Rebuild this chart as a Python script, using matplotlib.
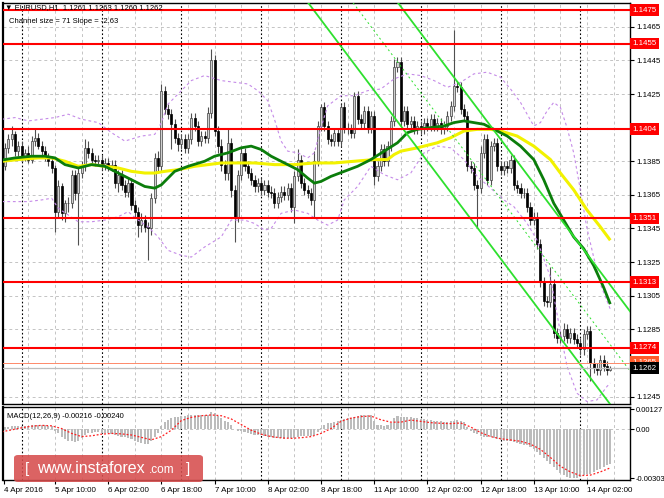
import matplotlib
matplotlib.use("Agg")
import matplotlib.pyplot as plt
import matplotlib.transforms as mtrans
from matplotlib.patches import FancyBboxPatch
import numpy as np

plt.rcParams['font.family'] = ['Liberation Sans', 'DejaVu Sans']

# ---------------- data ----------------
first_bar = 18
first_open = 1.1390
closes = [
    1.1382, 1.1393, 1.1398, 1.1401, 1.1391, 1.1394, 1.1387, 1.1390, 1.1386, 1.1397, 1.1399, 1.1394,
    1.1391, 1.1387, 1.1385, 1.1381, 1.1355, 1.1370, 1.1354, 1.1360, 1.1360, 1.1377, 1.1366, 1.1378,
    1.1382, 1.1393, 1.1390, 1.1386, 1.1385, 1.1386, 1.1383, 1.1384, 1.1382, 1.1383, 1.1372, 1.1377,
    1.1371, 1.1367, 1.1372, 1.1359, 1.1355, 1.1347, 1.1350, 1.1346, 1.1345, 1.1363, 1.1387, 1.1382,
    1.1427, 1.1416, 1.1413, 1.1407, 1.1399, 1.1395, 1.1398, 1.1393, 1.1398, 1.1411, 1.1406, 1.1397,
    1.1400, 1.1399, 1.1414, 1.1445, 1.1403, 1.1394, 1.1383, 1.1378, 1.1396, 1.1368, 1.1352, 1.1377,
    1.1390, 1.1382, 1.1378, 1.1374, 1.1370, 1.1372, 1.1368, 1.1371, 1.1367, 1.1366, 1.1360, 1.1364,
    1.1367, 1.1365, 1.1369, 1.1358, 1.1376, 1.1386, 1.1372, 1.1368, 1.1366, 1.1362, 1.1385, 1.1406,
    1.1417, 1.1406, 1.1398, 1.1397, 1.1402, 1.1397, 1.1417, 1.1405, 1.1404, 1.1402, 1.1424, 1.1410,
    1.1408, 1.1415, 1.1405, 1.1412, 1.1376, 1.1382, 1.1392, 1.1385, 1.1394, 1.1409, 1.1441, 1.1444,
    1.1409, 1.1415, 1.1407, 1.1409, 1.1404, 1.1406, 1.1404, 1.1408, 1.1406, 1.1410, 1.1406, 1.1408,
    1.1404, 1.1406, 1.1412, 1.1418, 1.1430, 1.1429, 1.1416, 1.1412, 1.1382, 1.1381, 1.1371, 1.1369,
    1.1390, 1.1398, 1.1374, 1.1394, 1.1396, 1.1382, 1.1380, 1.1382, 1.1381, 1.1386, 1.1371, 1.1369,
    1.1366, 1.1366, 1.1358, 1.1350, 1.1352, 1.1336, 1.1313, 1.1302, 1.1301, 1.1312, 1.1283, 1.1280,
    1.1281, 1.1285, 1.1280, 1.1283, 1.1279, 1.1277, 1.1273, 1.1282, 1.1284, 1.1265, 1.1262, 1.1261,
    1.1267, 1.1263, 1.1261, 1.1262,
]
wick_up_pips = [
    2, 3, 3, 5, 2, 3, 3, 2, 4, 3, 5, 3,
    3, 3, 3, 3, 2, 4, 2, 2, 4, 3, 3, 4,
    3, 5, 4, 3, 3, 3, 3, 3, 3, 3, 3, 3,
    3, 3, 3, 3, 3, 3, 4, 3, 3, 3, 3, 4,
    4, 3, 3, 3, 3, 3, 3, 3, 3, 3, 3, 3,
    3, 3, 3, 7, 3, 3, 4, 3, 8, 3, 3, 3,
    3, 3, 3, 3, 3, 3, 3, 3, 3, 3, 3, 3,
    3, 3, 3, 3, 3, 6, 3, 3, 3, 3, 6, 3,
    2, 3, 3, 3, 3, 3, 2, 3, 3, 3, 2, 3,
    3, 3, 3, 3, 3, 3, 3, 3, 3, 3, 5, 3,
    3, 3, 3, 3, 3, 3, 3, 3, 3, 3, 3, 3,
    3, 3, 3, 3, 33, 3, 3, 3, 3, 3, 3, 3,
    4, 3, 3, 3, 3, 3, 3, 3, 3, 3, 3, 3,
    3, 3, 3, 3, 3, 3, 3, 3, 3, 10, 3, 3,
    3, 4, 3, 3, 3, 3, 3, 3, 3, 3, 3, 3,
    3, 3, 3, 1,
]
wick_dn_pips = [
    6, 2, 3, 4, 3, 3, 2, 2, 2, 2, 3, 2,
    2, 2, 3, 3, 12, 3, 4, 5, 5, 3, 4, 31,
    3, 3, 3, 3, 3, 3, 3, 3, 3, 3, 3, 5,
    3, 3, 3, 3, 4, 7, 4, 3, 19, 4, 3, 3,
    3, 3, 3, 15, 3, 4, 3, 3, 3, 3, 3, 3,
    3, 3, 3, 3, 3, 4, 4, 4, 4, 4, 15, 3,
    3, 3, 3, 3, 3, 3, 3, 3, 3, 3, 3, 3,
    3, 3, 3, 3, 10, 3, 3, 3, 3, 3, 10, 3,
    3, 3, 3, 3, 3, 3, 3, 3, 3, 3, 3, 3,
    3, 3, 3, 3, 5, 3, 3, 3, 3, 3, 3, 3,
    3, 3, 3, 3, 3, 3, 3, 3, 3, 3, 3, 3,
    3, 3, 3, 3, 3, 3, 3, 3, 3, 3, 3, 23,
    3, 3, 3, 3, 3, 3, 3, 3, 3, 3, 3, 3,
    3, 3, 3, 3, 3, 3, 3, 3, 3, 3, 3, 3,
    3, 3, 3, 3, 3, 3, 3, 3, 3, 11, 3, 3,
    3, 3, 3, 1,
]

# moving averages (bar index, price)
green_ma_bars = [18, 22, 27, 31, 34, 37, 41, 45, 49, 53, 57, 61, 64, 66, 70, 74, 79, 82, 86, 90, 93,
                 96, 99, 103, 107, 110, 112, 114, 117, 121, 125, 129, 133, 137, 140, 143, 147, 151,
                 154, 157, 160, 163, 166, 170, 174, 178, 181, 184, 187, 190, 193, 196, 199, 201]
green_ma_vals = [1.13857, 1.1387, 1.1388, 1.1388, 1.1387, 1.1383, 1.1381, 1.1383, 1.1382, 1.1378,
                 1.1374, 1.1370, 1.1369, 1.1371, 1.1379, 1.1382, 1.1385, 1.1388, 1.1390, 1.1393,
                 1.1394, 1.1392, 1.1388, 1.1384, 1.1380, 1.1375, 1.1372, 1.1373, 1.1376, 1.1379,
                 1.1382, 1.1386, 1.1391, 1.1396, 1.1402, 1.1404, 1.1405, 1.1406, 1.1408, 1.1409,
                 1.1408, 1.1407, 1.1404, 1.1400, 1.1394, 1.1386, 1.1374, 1.1360, 1.1350, 1.1340,
                 1.1333, 1.1323, 1.1310, 1.1300]
yellow_ma_bars = [18, 23, 29, 33, 37, 41, 45, 49, 53, 57, 61, 64, 67, 71, 76, 80, 84, 88, 94, 100,
                  106, 112, 118, 124, 130, 134, 136, 138, 143, 149, 153, 157, 161, 165, 168, 173,
                  178, 183, 186, 190, 194, 198, 201]
yellow_ma_vals = [1.1385, 1.1386, 1.1387, 1.1387, 1.1385, 1.1382, 1.1383, 1.1382, 1.1381, 1.1379,
                  1.1378, 1.1378, 1.1379, 1.1380, 1.1382, 1.1383, 1.1384, 1.1384, 1.1384, 1.1383,
                  1.1383, 1.1384, 1.1384, 1.1385, 1.1386, 1.1386, 1.1389, 1.1391, 1.1393, 1.1396,
                  1.1399, 1.1403, 1.1404, 1.1404, 1.1403, 1.1400, 1.1394, 1.1386, 1.1378, 1.1368,
                  1.1356, 1.1346, 1.1338]

# Bollinger bands (bar index, price)
bb_up_bars = [18, 22, 26, 30, 34, 38, 42, 47, 51, 55, 60, 64, 66, 68, 72, 75, 79, 84, 88, 92, 95,
              98, 100, 102, 104, 107, 110, 112, 114, 116, 120, 124, 128, 132, 136, 140, 144, 148,
              152, 156, 160, 164, 168, 171, 174, 176, 178, 180, 182, 184, 186, 188, 190, 192, 194,
              196, 198, 201]
bb_up_vals = [1.1410, 1.1411, 1.1409, 1.1410, 1.1411, 1.1413, 1.1410, 1.1408, 1.1402, 1.1397,
              1.1400, 1.1401, 1.1408, 1.1419, 1.1427, 1.1433, 1.1436, 1.1433, 1.1432, 1.1431,
              1.1427, 1.1421, 1.1410, 1.1397, 1.1391, 1.1390, 1.1387, 1.1390, 1.1405, 1.1418,
              1.1424, 1.1424, 1.1427, 1.1428, 1.1434, 1.1437, 1.1436, 1.1433, 1.1429, 1.1432,
              1.1437, 1.1438, 1.1435, 1.1428, 1.1420, 1.1413, 1.1406, 1.1408, 1.1415, 1.1420,
              1.1417, 1.1405, 1.1390, 1.1368, 1.1345, 1.1328, 1.1312, 1.1297]
bb_dn_bars = [18, 22, 26, 30, 33, 35, 38, 41, 45, 49, 53, 56, 59, 62, 65, 68, 72, 75, 79, 84, 87,
              91, 94, 97, 99, 102, 106, 110, 113, 116, 119, 121, 125, 129, 133, 137, 141, 145, 149,
              153, 157, 161, 165, 169, 172, 176, 179, 183, 186, 188, 191, 194, 197, 200, 201]
bb_dn_vals = [1.1361, 1.1361, 1.1361, 1.1362, 1.1363, 1.1357, 1.1353, 1.1349, 1.1349, 1.1350,
              1.1352, 1.1355, 1.1350, 1.1346, 1.1340, 1.1332, 1.1329, 1.1328, 1.1334, 1.1340,
              1.1350, 1.1350, 1.1348, 1.1344, 1.1345, 1.1354, 1.1356, 1.1354, 1.1350, 1.1347,
              1.1350, 1.1362, 1.1370, 1.1382, 1.1377, 1.1374, 1.1378, 1.1390, 1.1394, 1.1393,
              1.1386, 1.1376, 1.1369, 1.1362, 1.1358, 1.1348, 1.1338, 1.1316, 1.1283, 1.1263,
              1.1247, 1.1242, 1.1243, 1.1251, 1.1253]

# regression channel
chan_anchor_bar = 149.8
chan_anchor_price = 1.1375
chan_slope = -0.000263
chan_width = 0.0071

# horizontal levels
levels = [1.1475, 1.1455, 1.1404, 1.1351, 1.1313, 1.1274]
ask_level = 1.1265
bid_level = 1.1262
price_ticks = [1.1465, 1.1445, 1.1425, 1.1385, 1.1365, 1.1345, 1.1325, 1.1305, 1.1285, 1.1245]
grid_prices = [1.1245, 1.1265, 1.1285, 1.1305, 1.1325, 1.1345, 1.1365, 1.1385, 1.1405, 1.1425,
               1.1445, 1.1465]

# time axis
time_label_bars = [34, 50, 66, 82, 98, 114, 130, 146, 162, 178, 194]
time_labels = ["5 Apr 10:00", "6 Apr 02:00", "6 Apr 18:00", "7 Apr 10:00", "8 Apr 02:00",
               "8 Apr 18:00", "11 Apr 10:00", "12 Apr 02:00", "12 Apr 18:00", "13 Apr 10:00",
               "14 Apr 02:00"]
first_label = "4 Apr 2016"
day_sep_bars = [24, 48, 72, 96, 120, 144, 168, 192]

# MACD histogram (units of 0.0001) per bar
macd_main = [
    0.8, 1.2, 1.6, 2.0, 2.0, 2.2, 2.0, 2.0, 1.8, 2.6, 3.0, 3.0,
    2.8, 2.6, 2.2, 1.8, -1.0, -2.5, -4.5, -6.0, -7.0, -7.5, -7.8, -7.0,
    -5.5, -3.5, -2.5, -2.0, -1.8, -1.8, -2.0, -2.2, -2.5, -2.8, -3.5, -4.0,
    -4.5, -5.0, -5.5, -6.2, -7.0, -7.8, -8.5, -9.0, -9.0, -7.5, -4.5, -2.5,
    2.0, 4.5, 6.0, 7.0, 7.5, 8.0, 8.5, 8.5, 8.8, 9.0, 9.2, 9.0,
    8.8, 8.8, 9.0, 11.0, 10.0, 8.5, 7.0, 5.5, 4.5, 3.0, 0.5, -1.0,
    -1.2, -1.8, -2.2, -2.8, -3.2, -3.5, -3.8, -4.2, -4.5, -4.8, -5.2, -5.5,
    -5.6, -5.7, -5.6, -5.6, -5.2, -4.5, -4.2, -4.0, -4.0, -4.2, -3.5, -1.5,
    1.0, 3.0, 3.8, 4.0, 4.5, 5.0, 6.0, 6.5, 7.0, 7.2, 8.0, 8.5,
    8.8, 9.0, 9.0, 9.0, 5.0, 3.0, 2.5, 2.0, 2.5, 4.0, 7.0, 8.5,
    8.0, 8.0, 7.8, 7.5, 7.0, 6.8, 6.5, 6.2, 6.0, 5.8, 5.5, 5.3,
    5.0, 4.8, 4.8, 5.0, 5.5, 6.0, 5.5, 4.5, 1.5, -1.0, -2.0, -3.0,
    -4.0, -4.5, -5.0, -5.0, -5.5, -6.0, -6.5, -7.0, -7.0, -7.5, -8.0, -8.5,
    -9.0, -9.5, -10.0, -11.0, -12.5, -14.0, -16.0, -18.0, -20.0, -21.5, -23.5, -25.5,
    -27.0, -28.5, -29.5, -30.0, -30.0, -30.0, -29.5, -28.5, -28.0, -27.5, -26.5, -25.5,
    -24.5, -23.5, -22.5, -21.6,
]
macd_signal_bars = [18, 21, 24, 27, 30, 33, 36, 39, 42, 45, 48, 51, 54, 57, 60, 63, 66, 69, 72, 75,
                    78, 81, 84, 87, 90, 93, 96, 99, 102, 105, 108, 111, 114, 117, 120, 123, 126,
                    129, 132, 135, 138, 141, 144, 147, 150, 153, 156, 159, 162, 165, 168, 171,
                    174, 177, 180, 183, 186, 189, 192, 195, 198, 201]
macd_signal_vals = [-1.5, -0.3, 1.0, 2.0, 2.5, 2.2, 0.5, -2.5, -4.5, -4.0, -3.0, -2.5, -2.8, -3.5,
                    -5.0, -6.5, -4.5, -0.5, 5.5, 7.5, 8.5, 9.0, 8.5, 6.5, 3.0, -0.5, -3.0, -4.5,
                    -5.3, -5.6, -5.2, -4.5, -2.5, 0.5, 5.0, 7.0, 8.0, 8.3, 6.0, 4.5, 4.5, 5.8,
                    5.0, 4.2, 3.8, 3.6, 4.0, 1.5, -2.0, -4.5, -5.8, -6.6, -7.4, -9.2, -12.5,
                    -17.5, -23.0, -26.5, -28.8, -28.5, -26.5, -24.0]
macd_top, macd_bottom = 0.00127, -0.00303

# ---------------- figure ----------------
W, H = 664, 498
fig = plt.figure(figsize=(W / 100, H / 100), dpi=100)
fig.patch.set_facecolor('white')


def fpos(x0, y0, x1, y1):
    return [x0 / W, 1 - y1 / H, (x1 - x0) / W, (y1 - y0) / H]


PX_PER_BAR = 3.325
X0_BAR = 34 + (3 - 55) / PX_PER_BAR
X1_BAR = 34 + (630 - 55) / PX_PER_BAR
P_PER_PX = 0.0000595
p_top = 1.1475 + (10 - 3) * P_PER_PX
p_bot = 1.1475 - (404 - 10) * P_PER_PX

ax = fig.add_axes(fpos(3, 3, 630, 404))
ax.set_xlim(X0_BAR, X1_BAR)
ax.set_ylim(p_bot, p_top)

FS = 5.5
FSR = 5.7
grid_kw = dict(color='#c4c4c4', lw=0.7, ls=(0, (3, 3)), zorder=0)
vgrid = np.arange(18, 210, 8)
for gx in vgrid:
    ax.axvline(gx, **grid_kw)
for gp in grid_prices:
    ax.axhline(gp, **grid_kw)
for d in day_sep_bars:
    ax.axvline(d, color='black', lw=0.8, ls=(0, (1.5, 2)), zorder=0.5)

# candles
n = len(closes)
bars = np.arange(first_bar, first_bar + n)
closes_a = np.array(closes)
opens_a = np.concatenate([[first_open], closes_a[:-1]])
top_b = np.maximum(opens_a, closes_a)
bot_b = np.minimum(opens_a, closes_a)
highs = top_b + np.array(wick_up_pips) * 0.0001
lows = bot_b - np.array(wick_dn_pips) * 0.0001
ax.vlines(bars, lows, highs, color='#505050', lw=0.8, zorder=2)
bull = closes_a >= opens_a
hgt = np.maximum(top_b - bot_b, 0.00004)
ax.bar(bars[bull], hgt[bull], bottom=bot_b[bull], width=0.62, color='#d0d0d0',
       edgecolor='#404040', linewidth=0.5, zorder=3)
ax.bar(bars[~bull], hgt[~bull], bottom=bot_b[~bull], width=0.62, color='black',
       edgecolor='black', linewidth=0.5, zorder=3)

# bollinger bands
bb_kw = dict(color='#c58be8', lw=0.8, ls=(0, (2.5, 2.5)), zorder=4)
ax.plot(bb_up_bars, bb_up_vals, **bb_kw)
ax.plot(bb_dn_bars, bb_dn_vals, **bb_kw)

# moving averages
ax.plot(yellow_ma_bars, yellow_ma_vals, color='#f2f200', lw=2.2, zorder=5, solid_capstyle='butt')
ax.plot(green_ma_bars, green_ma_vals, color='#0b7d0b', lw=2.0, zorder=6, solid_capstyle='butt')

# channel
cx = np.array([90.0, 215.0])
lower = chan_anchor_price + chan_slope * (cx - chan_anchor_bar)
ax.plot(cx, lower, color='#2ee02e', lw=1.3, zorder=7)
ax.plot(cx, lower + chan_width, color='#2ee02e', lw=1.3, zorder=7)
ax.plot(cx, lower + chan_width / 2, color='#2ee02e', lw=0.7, ls=(0, (2, 3)), zorder=7)

# horizontal levels
for lv in levels:
    ax.axhline(lv, color='#ff0000', lw=1.5, zorder=8)
ax.axhline(ask_level, color='#ff8a6a', lw=0.7, zorder=8)
ax.axhline(bid_level, color='#bdbdbd', lw=0.9, zorder=8)

# axis styling
for s in ax.spines.values():
    s.set_color('black')
    s.set_linewidth(1.0)
ax.spines['left'].set_linewidth(1.6)
ax.set_xticks([])
ax.yaxis.tick_right()
ax.set_yticks(price_ticks)
ax.set_yticklabels([f"{p:.4f}" for p in price_ticks])
ax.tick_params(axis='y', labelsize=FSR, length=3, width=0.8, pad=1.5, colors='black')

trans = mtrans.blended_transform_factory(ax.transAxes, ax.transData)
box_kw = dict(transform=trans, fontsize=FSR, color='white', va='center', ha='left', clip_on=False)
for lv in levels:
    ax.text(1.004, lv, f"{lv:.4f}", zorder=20,
            bbox=dict(boxstyle='square,pad=0.3', fc='#ff0000', ec='none'), **box_kw)
ax.text(1.004, ask_level + 0.00005, f"{ask_level:.4f}", zorder=20,
        bbox=dict(boxstyle='square,pad=0.3', fc='#ff5a2a', ec='none'), **box_kw)
ax.text(1.004, bid_level - 0.00002, f"{bid_level:.4f}", zorder=21,
        bbox=dict(boxstyle='square,pad=0.3', fc='black', ec='none'), **box_kw)

# header texts
ax.text(0.003, 0.9975, "\u25bc EURUSD,H1  1.1261 1.1263 1.1260 1.1262", transform=ax.transAxes,
        fontsize=FS, va='top', ha='left', color='black', zorder=25)
ax.text(0.010, 0.963, "Channel size = 71 Slope = -2.63", transform=ax.transAxes,
        fontsize=FS, va='top', ha='left', color='black', zorder=25)

# ---------------- MACD panel ----------------
mpx = (macd_top - macd_bottom) / (478 - 409)
mtop = macd_top + (409 - 407) * mpx
mbot = macd_bottom - (480 - 478) * mpx
ax2 = fig.add_axes(fpos(3, 407, 630, 480))
ax2.set_xlim(X0_BAR, X1_BAR)
ax2.set_ylim(mbot, mtop)
for gx in vgrid:
    ax2.axvline(gx, **grid_kw)
ax2.axhline(0, **grid_kw)
for d in day_sep_bars:
    ax2.axvline(d, color='black', lw=0.8, ls=(0, (1.5, 2)), zorder=0.5)
ax2.bar(bars, np.array(macd_main) * 0.0001, width=0.62, color='#bcbcbc', zorder=2)
ax2.plot(macd_signal_bars, np.array(macd_signal_vals) * 0.0001, color='#ff2020', lw=0.9,
         ls=(0, (1.5, 1.5)), zorder=3)
for s in ax2.spines.values():
    s.set_color('black')
    s.set_linewidth(1.0)
ax2.spines['left'].set_linewidth(1.6)
ax2.yaxis.tick_right()
ax2.set_yticks([macd_top, 0.0, macd_bottom])
ax2.set_yticklabels(["0.00127", "0.00", "-0.00303"])
ax2.tick_params(axis='y', labelsize=5.5, length=3, width=0.8, pad=1.0)
ax2.set_xticks([X0_BAR + 0.3] + time_label_bars)
ax2.set_xticklabels([first_label] + time_labels)
ax2.tick_params(axis='x', labelsize=5.8, length=3, width=0.8, pad=2)
for lab in ax2.get_xticklabels():
    lab.set_horizontalalignment('left')
ax2.text(0.006, 0.92, "MACD(12,26,9) -0.00216 -0.00240", transform=ax2.transAxes,
         fontsize=FS, va='top', ha='left', color='black', zorder=25)

# watermark
wx0, wy0, wx1, wy1 = 14, 455, 203, 482
wm = FancyBboxPatch((wx0 / W, 1 - wy1 / H), (wx1 - wx0) / W, (wy1 - wy0) / H,
                    boxstyle='round,pad=0,rounding_size=0.006', transform=fig.transFigure,
                    fc='#d64d4d', ec='none', alpha=0.88, zorder=30)
fig.patches.append(wm)
fig.text(25 / W, 1 - 469 / H, "[", fontsize=11, color='white', va='center', ha='left', zorder=31)
fig.text(37 / W, 1 - 468 / H, "www.instaforex", fontsize=11.5, color='white', va='center',
         ha='left', zorder=31)
fig.text(149 / W, 1 - 469.5 / H, ".com", fontsize=8.5, color='white', va='center', ha='left',
         zorder=31)
fig.text(186 / W, 1 - 469 / H, "]", fontsize=11, color='white', va='center', ha='left', zorder=31)

fig.savefig("out.png", dpi=100, facecolor='white')
